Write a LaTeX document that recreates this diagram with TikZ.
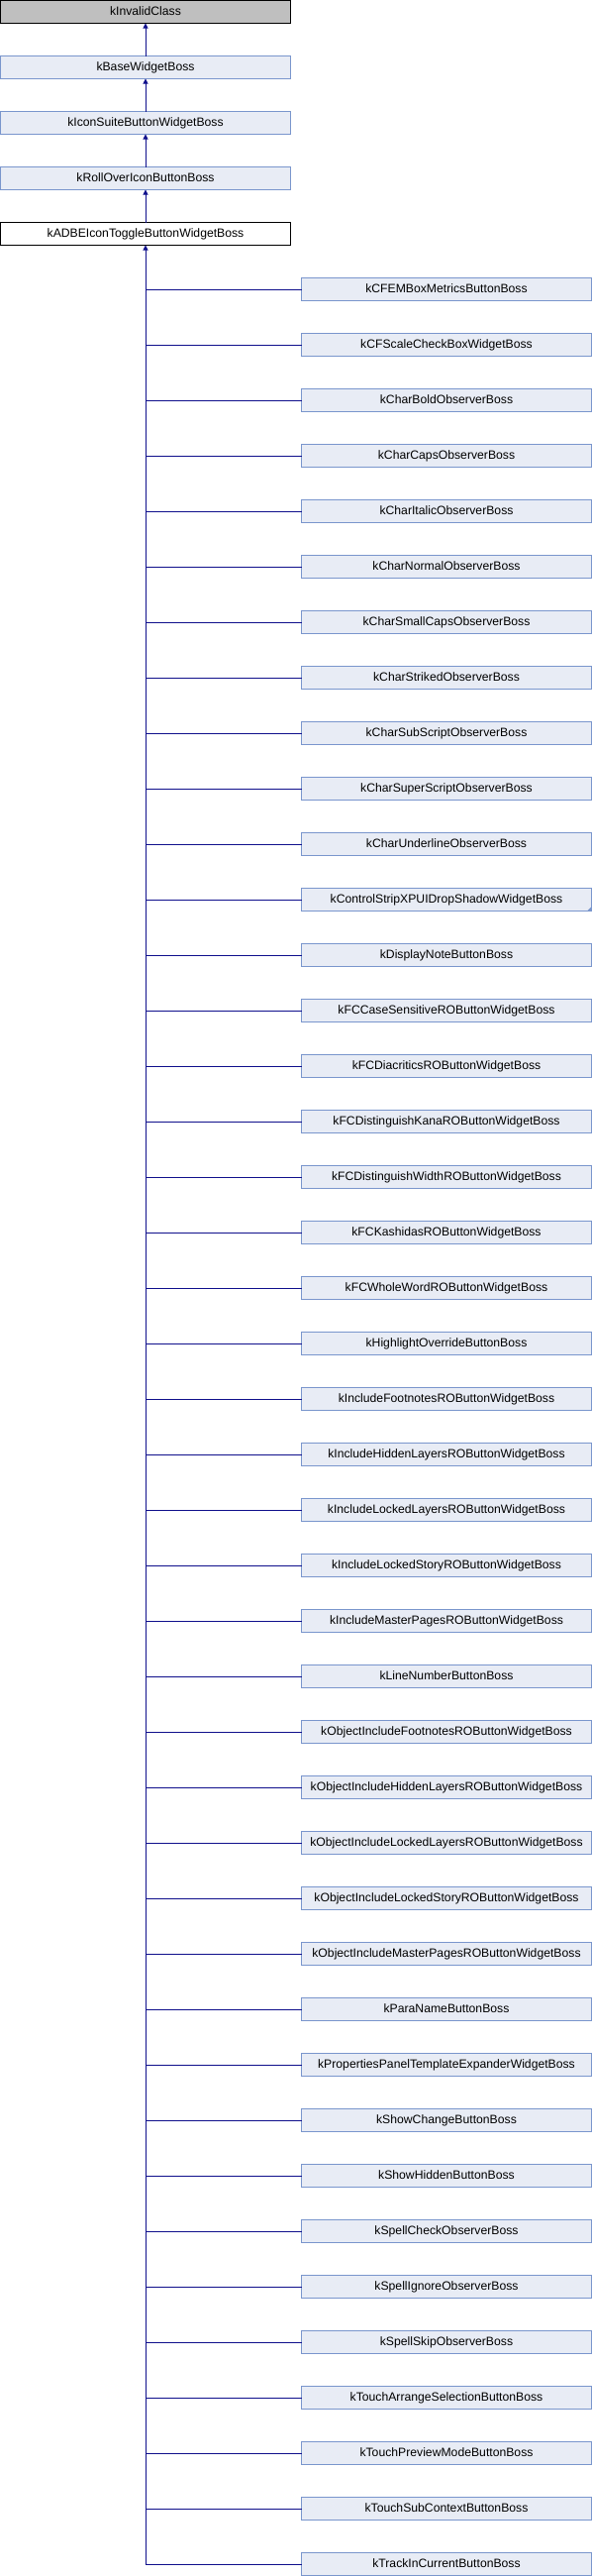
\documentclass[tikz,border=0pt]{standalone}
\usepackage{fontspec}
\setmainfont{Liberation Sans}
\usetikzlibrary{arrows.meta}
\definecolor{boxfill}{RGB}{232,236,245}
\definecolor{boxline}{RGB}{122,150,205}
\definecolor{edgecol}{RGB}{16,16,140}
\definecolor{rootfill}{RGB}{191,191,191}
\tikzset{
  cls/.style={rectangle, draw=boxline, fill=boxfill, line width=0.9bp,
    minimum width=293bp, minimum height=23bp, inner sep=0pt, outer sep=0pt,
    text height=9.4bp, text depth=3bp, font=\fontsize{12.2bp}{14bp}\selectfont},
  rootcls/.style={cls, draw=black, fill=rootfill},
  curcls/.style={cls, draw=black, fill=white},
  inh/.style={draw=edgecol, line width=1bp},
  inharrow/.style={inh, -{Triangle[length=5bp,width=5bp]}}
}
\begin{document}
\begin{tikzpicture}[x=1bp,y=-1bp]
\useasboundingbox (0,0) rectangle (598,2600);
\node[rootcls] (root) at (147,12) {kInvalidClass};
\node[cls] (base) at (147,68) {kBaseWidgetBoss};
\node[cls] (icon) at (147,124) {kIconSuiteButtonWidgetBoss};
\node[cls] (roll) at (147,180) {kRollOverIconButtonBoss};
\node[curcls] (adbe) at (147,236) {kADBEIconToggleButtonWidgetBoss};
\draw[inharrow] (base.north) -- (root.south);
\draw[inharrow] (icon.north) -- (base.south);
\draw[inharrow] (roll.north) -- (icon.south);
\draw[inharrow] (adbe.north) -- (roll.south);
\foreach \t [count=\k] in {kCFEMBoxMetricsButtonBoss,kCFScaleCheckBoxWidgetBoss,kCharBoldObserverBoss,kCharCapsObserverBoss,kCharItalicObserverBoss,kCharNormalObserverBoss,kCharSmallCapsObserverBoss,kCharStrikedObserverBoss,kCharSubScriptObserverBoss,kCharSuperScriptObserverBoss,kCharUnderlineObserverBoss,kControlStripXPUIDropShadowWidgetBoss,kDisplayNoteButtonBoss,kFCCaseSensitiveROButtonWidgetBoss,kFCDiacriticsROButtonWidgetBoss,kFCDistinguishKanaROButtonWidgetBoss,kFCDistinguishWidthROButtonWidgetBoss,kFCKashidasROButtonWidgetBoss,kFCWholeWordROButtonWidgetBoss,kHighlightOverrideButtonBoss,kIncludeFootnotesROButtonWidgetBoss,kIncludeHiddenLayersROButtonWidgetBoss,kIncludeLockedLayersROButtonWidgetBoss,kIncludeLockedStoryROButtonWidgetBoss,kIncludeMasterPagesROButtonWidgetBoss,kLineNumberButtonBoss,kObjectIncludeFootnotesROButtonWidgetBoss,kObjectIncludeHiddenLayersROButtonWidgetBoss,kObjectIncludeLockedLayersROButtonWidgetBoss,kObjectIncludeLockedStoryROButtonWidgetBoss,kObjectIncludeMasterPagesROButtonWidgetBoss,kParaNameButtonBoss,kPropertiesPanelTemplateExpanderWidgetBoss,kShowChangeButtonBoss,kShowHiddenButtonBoss,kSpellCheckObserverBoss,kSpellIgnoreObserverBoss,kSpellSkipObserverBoss,kTouchArrangeSelectionButtonBoss,kTouchPreviewModeButtonBoss,kTouchSubContextButtonBoss,kTrackInCurrentButtonBoss}{
  \node[cls] (c\k) at (451,{292+56*(\k-1)}) {\t};
  \draw[inh] (c\k.west) -- (c\k.west -| adbe.south);
}
\draw[inharrow] (c42.west -| adbe.south) -- (adbe.south);
\fill[boxline] (c12.south east) -- ++(0,-4.5) -- ++(-4.5,4.5) -- cycle;
\end{tikzpicture}
\end{document}
